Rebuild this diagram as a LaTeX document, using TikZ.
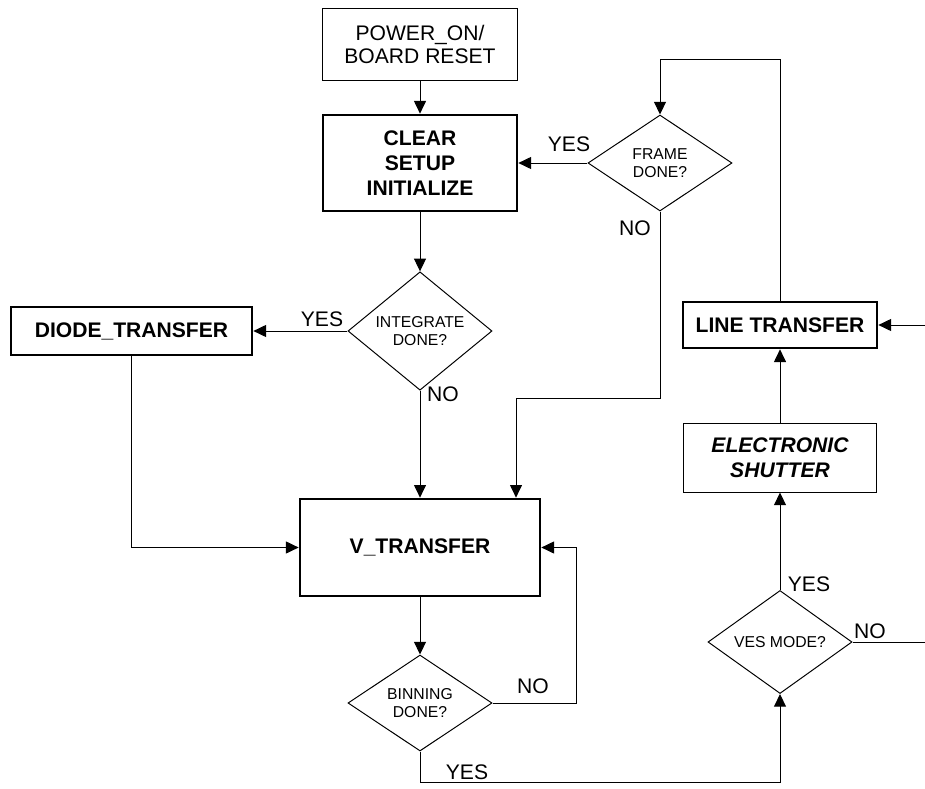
\documentclass[tikz,border=0pt]{standalone}
\usepackage{fontspec}
\setmainfont{Liberation Sans}
\usetikzlibrary{arrows.meta,positioning,shapes.geometric,calc}

\begin{document}
\begin{tikzpicture}[x=0.025cm, y=-0.025cm,
        plainbox/.style={rectangle, draw, line width=0.7pt, minimum width=4.85cm,
                         align=center, inner sep=0pt, font=\fontsize{15}{16}\selectfont},
        boldbox/.style={rectangle, draw, line width=1.9pt, minimum width=4.85cm,
                        align=center, inner sep=0pt, font=\fontsize{15}{18}\selectfont\bfseries},
        decision/.style={diamond, draw, line width=0.7pt, minimum width=3.6cm,
                         minimum height=2.4cm, inner sep=0pt, align=center,
                         font=\fontsize{11.2}{13}\selectfont},
        lbl/.style={inner sep=0pt, font=\fontsize{15}{16}\selectfont},
        arr/.style={-{Triangle[length=9pt, width=8.5pt]}, line width=0.7pt},
        link/.style={line width=0.7pt}
      ]
        \useasboundingbox (0,0) rectangle (925,788);

        \node[plainbox, minimum height=1.775cm] (power)   at (420,44.5) {POWER\_ON/\\BOARD RESET};
        \node[boldbox, minimum height=2.4cm]    (clear)   at (420,163)  {CLEAR\\SETUP\\INITIALIZE};
        \node[decision]                         (frame)   at (660,163)  {FRAME\\DONE?};
        \node[decision]                         (integ)   at (420,331)  {INTEGRATE\\DONE?};
        \node[boldbox, minimum width=6.025cm, minimum height=1.2cm] (diode) at (131.5,331) {DIODE\_TRANSFER};
        \node[boldbox, minimum width=6cm, minimum height=2.425cm]   (vtrans) at (420,547.5) {V\_TRANSFER};
        \node[decision]                         (binning) at (420,703)  {BINNING\\DONE?};
        \node[boldbox, minimum height=1.15cm]   (line)    at (780,325)  {LINE TRANSFER};
        \node[plainbox, minimum width=4.8cm, minimum height=1.725cm,
              font=\fontsize{15}{18}\selectfont\bfseries\itshape] (shutter) at (780,457.5) {ELECTRONIC\\SHUTTER};
        \node[decision]                         (ves)     at (780,642)  {VES MODE?};

        \coordinate (ltop)  at (660,59);
        \coordinate (nobend) at (516,398);
        \coordinate (ybot)  at (780,782);
        \coordinate (rin)   at (925,325);
        \coordinate (rout)  at (925,642);

        \draw[arr] (power) -- (clear);
        \draw[arr] (clear) -- (integ);
        \draw[arr] (integ) -- (diode);
        \draw[arr] (integ) -- (vtrans);
        \draw[arr] (frame) -- (clear);
        \draw[arr] (frame.south) |- (nobend) -- (nobend |- vtrans.north);
        \draw[arr] (diode) |- (vtrans);
        \draw[arr] (vtrans) -- (binning);
        \draw[arr] (binning.east) -- ++(84,0) |- (vtrans.east);
        \draw[arr] (binning.south) |- (ybot) -- (ves.south);
        \draw[arr] (ves) -- (shutter);
        \draw[arr] (shutter) -- (line);
        \draw[arr] (line.north) |- (ltop) -- (frame.north);
        \draw[arr] (rin) -- (line);
        \draw[link] (ves.east) -- (rout);

        \node[lbl] (fyes) at (569,144) {YES};
        \node[lbl] (fno)  at (635,228) {NO};
        \node[lbl] (iyes) at (322,319) {YES};
        \node[lbl] (ino)  at (443,394) {NO};
        \node[lbl] (bno)  at (533,686) {NO};
        \node[lbl] (byes) at (467,772) {YES};
        \node[lbl] (vyes) at (809,584) {YES};
        \node[lbl] (vno)  at (870,631) {NO};
      \end{tikzpicture}
\end{document}
